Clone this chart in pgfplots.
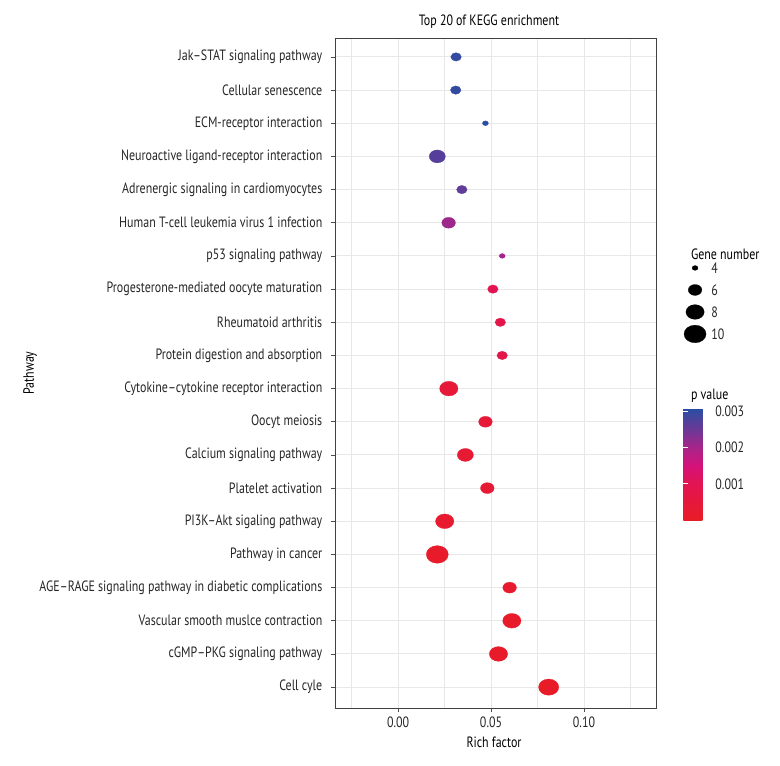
\documentclass[border=0pt]{standalone}
\usepackage{pgfplots}
\pgfplotsset{compat=1.18}
\usepackage{pgfplotstable}
\usepackage{fontspec}
\setmainfont{PT Sans}[FakeStretch=0.8]

\pgfplotsset{colormap={pv}{rgb255(0)=(232,28,38) rgb255(10)=(226,20,82) rgb255(15)=(213,18,122)
  rgb255(20)=(168,36,137) rgb255(25)=(108,56,150) rgb255(31)=(40,78,162)}}

% idx = row from top, rf = rich factor, n = gene number, p = p value
\pgfplotstableread{
idx rf n p
1 0.0312 5 0.0030
2 0.0310 5 0.0030
3 0.0470 4 0.0031
4 0.0211 7 0.0027
5 0.0343 5 0.0026
6 0.0272 6 0.0021
7 0.0560 4 0.0020
8 0.0510 5 0.0010
9 0.0550 5 0.0008
10 0.0560 5 0.0008
11 0.0273 8 0.0004
12 0.0470 6 0.0004
13 0.0362 7 0.0003
14 0.0480 6 0.0003
15 0.0251 8 0.0002
16 0.0211 10 0.0001
17 0.0600 6 0.0002
18 0.0612 8 0.0001
19 0.0540 8 0.0001
20 0.0810 9 0.00001
}\data

% size legend
\pgfplotstableread{
x y n lab
0.1597 7.363 4 4
0.1597 8.026 6 6
0.1597 8.690 8 8
0.1597 9.353 10 10
}\leg

\begin{document}
\begin{tikzpicture}[font=\fontsize{11.2}{13.4}\selectfont]
\begin{axis}[
  at={(0,0)}, anchor=south west,
  scale only axis, width=240.75pt, height=502.5pt,
  xmin=-0.0339, xmax=0.1387, ymin=0.43, ymax=20.63, y dir=reverse,
  xtick={0,0.05,0.1}, xticklabels={0.00,0.05,0.10},
  minor xtick={-0.025,0.025,0.075,0.125},
  ytick={1,...,20},
  yticklabels={Jak--STAT signaling pathway, Cellular senescence, ECM-receptor interaction,
    Neuroactive ligand-receptor interaction, Adrenergic signaling in cardiomyocytes,
    Human T-cell leukemia virus 1 infection, p53 signaling pathway,
    Progesterone-mediated oocyte maturation, Rheumatoid arthritis,
    Protein digestion and absorption, Cytokine--cytokine receptor interaction,
    Oocyt meiosis, Calcium signaling pathway, Platelet activation,
    PI3K--Akt sigaling pathway, Pathway in cancer,
    AGE--RAGE signaling pathway in diabetic complications,
    Vascular smooth muslce contraction, cGMP--PKG signaling pathway, Cell cyle},
  yticklabel style={xshift=-3pt},
  grid=both,
  major grid style={black!9, line width=0.7pt},
  minor grid style={black!9, line width=0.5pt},
  axis line style={black!75, line width=0.6pt},
  tick pos=left, tick align=outside,
  major tick length=3pt, minor tick length=0pt,
  tick style={black!70, line width=0.6pt},
  every tick label/.append style={text=black!85},
  point meta min=0, point meta max=0.0031, colormap name=pv,
  colorbar,
  colorbar style={
    at={(parent axis.north east)}, anchor=north west,
    xshift=12pt, yshift=-277.5pt,
    scale only axis, width=22.5pt, height=84pt,
    ytick={0.001,0.002,0.003}, yticklabels={0.001,0.002,0.003},
    scaled y ticks=false,
    ytick pos=both, yticklabel pos=right,
    tick align=inside, major tick length=3.5pt,
    ytick style={white, line width=0.6pt},
    axis line style={draw=none},
    yticklabel style={text=black!85, xshift=-2pt},
  },
  clip=false,
]
\addplot[scatter, only marks, mark=*,
  point meta=explicit,
  scatter/use mapped color={draw=mapped color, fill=mapped color},
  mark options={xscale=1.25, line width=0.2pt},
  visualization depends on={0.3*sqrt(36+75*(\thisrow{n}-4)) \as \ms},
  scatter/@pre marker code/.append style={/tikz/mark size=\ms},
] table[x=rf, y=idx, meta=p] {\data};

% Gene number legend: marks
\addplot[scatter, only marks, mark=*, black,
  point meta=explicit,
  scatter/use mapped color={draw=black, fill=black},
  mark options={xscale=1.25, line width=0.2pt},
  visualization depends on={0.3*sqrt(36+75*(\thisrow{n}-4)) \as \ms},
  scatter/@pre marker code/.append style={/tikz/mark size=\ms},
] table[x=x, y=y, meta=n] {\leg};
% Gene number legend: labels
\addplot[only marks, mark=none, black,
  point meta=explicit symbolic,
  nodes near coords,
  every node near coord/.append style={anchor=west, inner sep=0pt, xshift=12pt, text=black!85},
] table[x=x, y=y, meta=lab] {\leg};
\end{axis}
\node at (115.5pt,515pt) {Top 20 of KEGG enrichment};
\node at (119.25pt,-25.5pt) {Rich factor};
\node[rotate=90] at (-228.75pt,251.25pt) {Pathway};
\node[anchor=west, inner sep=0pt] at (266.8pt,340pt) {Gene number};
\node[anchor=west, inner sep=0pt] at (266.8pt,234pt) {p value};
\pgfresetboundingbox
\path[use as bounding box] (-251.25pt,-42.75pt) rectangle (333.75pt,531pt);
\end{tikzpicture}
\end{document}
